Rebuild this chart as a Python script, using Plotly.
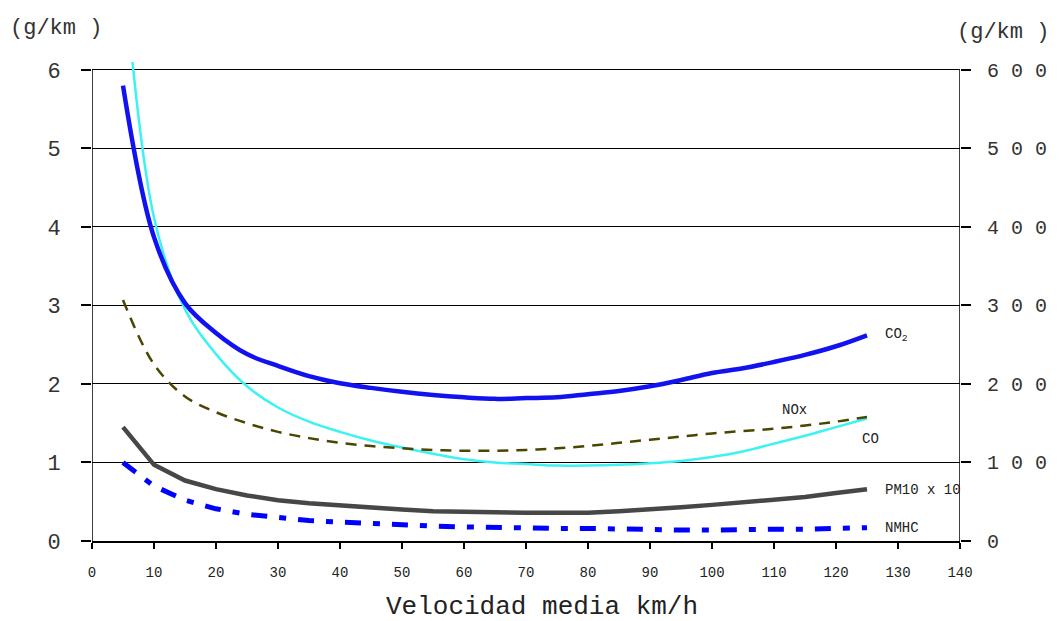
import plotly.graph_objects as go

# Average speed (km/h)
speed = [5, 10, 15, 20, 25, 30, 35, 40, 45, 50, 55, 60, 65,
         70, 75, 80, 85, 90, 95, 100, 105, 110, 115, 120, 125]

# CO2 in g/km (right axis)
co2 = [580, 387, 303, 265, 238, 223, 210, 201, 195, 190, 186, 183, 181,
       182, 183, 187, 191, 197, 205, 214, 220, 228, 237, 248, 262]
# CO, NOx, PM10 x 10, NMHC in g/km (left axis)
co = [7.4, 4.12, 2.95, 2.38, 1.97, 1.70, 1.52, 1.39, 1.28, 1.19, 1.11, 1.04, 1.00,
      0.98, 0.96, 0.96, 0.97, 0.99, 1.02, 1.07, 1.14, 1.24, 1.34, 1.45, 1.56]
nox = [3.07, 2.25, 1.84, 1.64, 1.50, 1.39, 1.31, 1.25, 1.21, 1.18, 1.16, 1.15, 1.15,
       1.16, 1.18, 1.21, 1.25, 1.29, 1.33, 1.37, 1.40, 1.43, 1.47, 1.52, 1.58]
pm10 = [1.45, 0.97, 0.77, 0.66, 0.58, 0.52, 0.48, 0.45, 0.42, 0.40, 0.38, 0.37, 0.36,
        0.36, 0.36, 0.36, 0.38, 0.40, 0.43, 0.46, 0.49, 0.52, 0.56, 0.61, 0.66]
nmhc = [1.00, 0.70, 0.52, 0.41, 0.34, 0.30, 0.26, 0.24, 0.22, 0.21, 0.19, 0.18, 0.17,
        0.16, 0.16, 0.16, 0.15, 0.14, 0.14, 0.14, 0.15, 0.15, 0.15, 0.16, 0.17]

x_ticks = list(range(0, 141, 10))
left_ticks = [0, 1, 2, 3, 4, 5, 6]
right_ticks = [0, 100, 200, 300, 400, 500, 600]
right_text = ["0", "1 0 0", "2 0 0", "3 0 0", "4 0 0", "5 0 0", "6 0 0"]

MONO = "Liberation Mono, Courier New, monospace"

fig = go.Figure()

fig.add_trace(go.Scatter(x=speed, y=co, mode="lines", name="CO",
                         line=dict(color="#3cf2f2", width=2.5), line_shape="spline"))
fig.add_trace(go.Scatter(x=speed, y=nox, mode="lines", name="NOx",
                         line=dict(color="#4a4600", width=2.5, dash="11px,8px"),
                         line_shape="spline"))
fig.add_trace(go.Scatter(x=speed, y=pm10, mode="lines", name="PM10 x 10",
                         line=dict(color="#474747", width=4.5)))
fig.add_trace(go.Scatter(x=speed, y=nmhc, mode="lines", name="NMHC",
                         line=dict(color="#0000ff", width=5, dash="16px,12px,7px,12px")))
fig.add_trace(go.Scatter(x=speed, y=co2, mode="lines", name="CO2", yaxis="y2",
                         line=dict(color="#1212f0", width=4.5), line_shape="spline"))

# Axis lines drawn only up to the top tick
fig.add_shape(type="line", xref="x", yref="y", x0=0, x1=0, y0=0, y1=6,
              line=dict(color="black", width=1.5))
fig.add_shape(type="line", xref="x", yref="y", x0=140, x1=140, y0=0, y1=6,
              line=dict(color="black", width=1.5))

# Series labels at the end of each curve
labels = [
    ("CO<sub>2</sub>", 127.5, 2.62),
    ("NOx", 111, 1.67),
    ("CO", 123.8, 1.30),
    ("PM10 x 10", 127.5, 0.65),
    ("NMHC", 127.5, 0.16),
]
for txt, lx, ly in labels:
    fig.add_annotation(x=lx, y=ly, xref="x", yref="y", text=txt, showarrow=False,
                       xanchor="left", yanchor="middle",
                       font=dict(family=MONO, size=14, color="#222"))

fig.add_annotation(x=0.0, y=1.0, xref="paper", yref="paper", xshift=-84, yshift=34,
                   text="(g/km )", showarrow=False, xanchor="left", yanchor="middle",
                   font=dict(family=MONO, size=22, color="#333"))
fig.add_annotation(x=1.0, y=1.0, xref="paper", yref="paper", xshift=-5, yshift=30,
                   text="(g/km )", showarrow=False, xanchor="left", yanchor="middle",
                   font=dict(family=MONO, size=22, color="#333"))
fig.add_annotation(x=0.5, y=0.0, xref="paper", yref="paper", xshift=16, yshift=-66,
                   text="Velocidad media km/h", showarrow=False,
                   xanchor="center", yanchor="middle",
                   font=dict(family=MONO, size=26, color="#222"))

fig.update_layout(
    width=1059, height=621,
    margin=dict(l=92, r=96, t=62, b=80),
    paper_bgcolor="white", plot_bgcolor="white",
    showlegend=False,
    xaxis=dict(range=[0, 140], tickvals=x_ticks, ticks="outside", ticklen=6,
               tickcolor="black", tickwidth=1.5, showgrid=False, zeroline=False,
               showline=True, linecolor="black", linewidth=1.5,
               tickfont=dict(family=MONO, size=14, color="#222"),
               ticklabelstandoff=11),
    yaxis=dict(range=[0, 6.1], tickvals=left_ticks, ticks="outside", ticklen=10,
               tickcolor="black", tickwidth=1.5, showgrid=True, gridcolor="black",
               gridwidth=1, zeroline=False, showline=False,
               tickfont=dict(family=MONO, size=22, color="#333"),
               ticklabelstandoff=16),
    yaxis2=dict(range=[0, 610], tickvals=right_ticks, ticktext=right_text,
                overlaying="y", side="right", ticks="outside", ticklen=10,
                tickcolor="black", tickwidth=1.5, showgrid=False, zeroline=False,
                showline=False,
                tickfont=dict(family=MONO, size=20, color="#333"),
                ticklabelstandoff=12),
)

fig.write_html("out.html")
